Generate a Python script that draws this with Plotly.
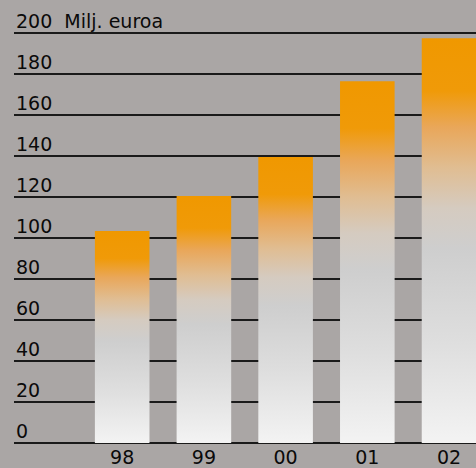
import plotly.graph_objects as go

years = ["98", "99", "00", "01", "02"]
revenue = [103.5, 120.5, 139.5, 176.5, 197.5]
y_ticks = [0, 20, 40, 60, 80, 100, 120, 140, 160, 180, 200]
y_labels = [str(v) for v in y_ticks[:-1]] + ["200\u00a0\u00a0Milj. euroa"]

BG = "#aaa6a5"
GRID = "#1a1a1a"
FONT = "DejaVu Sans"
TEXT = "#0a0a0a"
half_w = 0.334

bar_scale = [
    [0.0, "#f3f3f3"],
    [0.25, "#dedede"],
    [0.48, "#cecece"],
    [0.58, "#d5cbc0"],
    [0.68, "#e0bd92"],
    [0.78, "#e9a75a"],
    [0.87, "#f09a08"],
    [1.0, "#f09800"],
]

fig = go.Figure()
for i, (yr, v) in enumerate(zip(years, revenue)):
    xs = [i - half_w, i + half_w, i + half_w, i - half_w, i - half_w]
    ys = [0, 0, v, v, 0]
    fig.add_trace(go.Scatter(
        x=xs, y=ys, mode="lines", fill="toself",
        line=dict(width=0, color="rgba(0,0,0,0)"),
        fillgradient=dict(type="vertical", colorscale=bar_scale),
        hoverinfo="skip", showlegend=False, name=yr,
    ))

for val, lab in zip(y_ticks, y_labels):
    fig.add_annotation(
        x=0, xref="paper", xanchor="left", y=val, yref="y", yanchor="middle",
        yshift=12, text=lab, showarrow=False,
        font=dict(family=FONT, size=19, color=TEXT),
    )

fig.update_layout(
    width=476, height=468,
    margin=dict(l=14, r=0, t=27, b=23, autoexpand=False),
    paper_bgcolor=BG, plot_bgcolor=BG,
    font=dict(family=FONT, size=19, color=TEXT),
    showlegend=False,
)
fig.update_xaxes(
    range=[-1.324, 4.33], tickvals=list(range(len(years))), ticktext=years,
    showgrid=False, zeroline=False, showline=False, ticks="",
    tickfont=dict(size=19, color=TEXT), ticklabelstandoff=-1,
    automargin=False, fixedrange=True,
)
fig.update_yaxes(
    range=[-1, 203], tickvals=y_ticks, showticklabels=False,
    showgrid=True, gridcolor=GRID, gridwidth=1.5,
    zeroline=False, showline=False, ticks="", automargin=False,
    fixedrange=True,
)

fig.write_html(
    "out.html",
    config={"displayModeBar": False},
    post_script="document.body.style.margin='0';document.body.style.background='" + BG + "';",
)
